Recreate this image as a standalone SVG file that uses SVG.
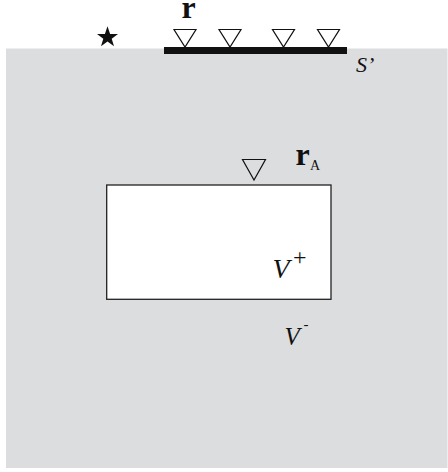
<svg xmlns="http://www.w3.org/2000/svg" width="448" height="472" viewBox="0 0 448 472">
<style>
.t{font-family:"Liberation Serif","Times New Roman",serif;fill:#111}
.b{font-weight:bold}
.i{font-style:italic}
.tri{fill:none;stroke:#111;stroke-width:1.2;stroke-linejoin:miter}
</style>
<rect width="448" height="472" fill="#ffffff"/>
<rect id="medium" x="6" y="48.5" width="441.5" height="419.5" fill="#dcdddf"/>
<g id="surface">
<rect x="164" y="47" width="183" height="7" fill="#111"/>
<text class="t i" x="356" y="72" font-size="22">S’</text>
</g>
<g id="source">
<polygon fill="#111" points="107.5,26.3 110.1,33.9 118,33.9 111.7,38.7 114,46.2 107.5,41.6 101,46.2 103.3,38.7 97,33.9 104.9,33.9"/>
</g>
<g id="receivers">
<polygon class="tri" points="174,29.5 196,29.5 185,47"/>
<polygon class="tri" points="219,29.5 241,29.5 230,47"/>
<polygon class="tri" points="272.5,29.5 294.5,29.5 283.5,47"/>
<polygon class="tri" points="317.5,29.5 339.5,29.5 328.5,47"/>
<text class="t b" x="181.5" y="17.5" font-size="32">r</text>
</g>
<g id="volume">
<rect x="106.7" y="185" width="224.3" height="114.3" fill="#ffffff" stroke="#222" stroke-width="1.3"/>
<text class="t i" x="272.5" y="278" font-size="28">V</text>
<text class="t" x="293" y="265" font-size="24">+</text>
</g>
<g id="receiverA">
<polygon class="tri" points="242.5,159.5 265.5,159.5 254,180"/>
<text class="t b" x="295.5" y="165" font-size="32">r</text>
<text class="t" x="310" y="170" font-size="14">A</text>
</g>
<g id="outside">
<text class="t i" x="284.5" y="345" font-size="25">V</text>
<text class="t" x="303.5" y="329" font-size="15">-</text>
</g>
</svg>
